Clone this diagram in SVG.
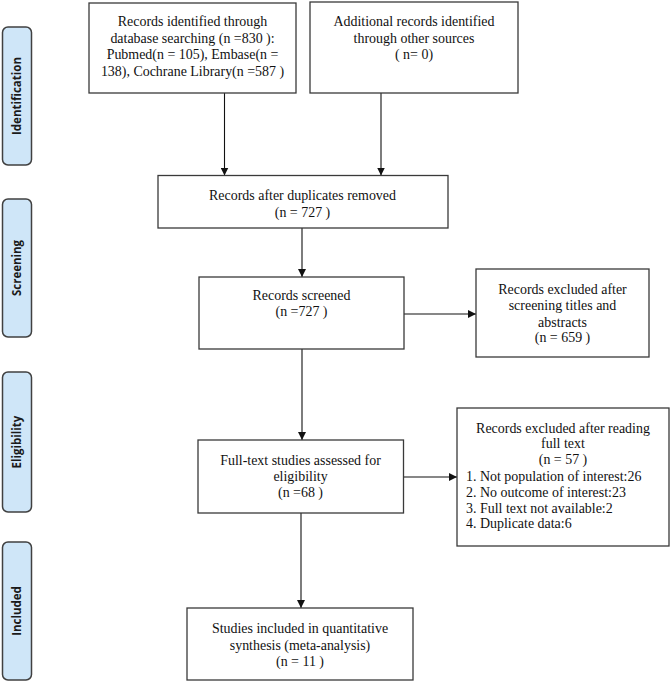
<svg xmlns="http://www.w3.org/2000/svg" width="671" height="682" viewBox="0 0 671 682">
<style>
.box{fill:#fff;stroke:#3a3a3a;stroke-width:1.3}
.pill{fill:#cfe6f8;stroke:#404040;stroke-width:1.5}
.t{font-family:"Liberation Serif",serif;font-size:15.5px;fill:#111;text-anchor:middle}
.tl{font-family:"Liberation Serif",serif;font-size:15.5px;fill:#111}
.p{font-family:"Open Sans","DejaVu Sans",sans-serif;font-weight:bold;font-size:11.5px;fill:#1a1a1a;text-anchor:middle}
.c{stroke:#111;stroke-width:1.1;fill:none;marker-end:url(#ah)}
</style>
<defs>
<marker id="ah" viewBox="0 0 10 10" refX="10" refY="5" markerWidth="8" markerHeight="8" markerUnits="userSpaceOnUse" orient="auto">
<path d="M0,0 L10,5 L0,10 z" fill="#111"/>
</marker>
</defs>
<rect width="671" height="682" fill="#fff"/>
<g id="phase-identification"><rect class="pill" x="2.5" y="27" width="29" height="138" rx="5.5"/><text class="p" transform="translate(21,96) rotate(-90)">Identification</text></g>
<g id="phase-screening"><rect class="pill" x="2.5" y="199" width="29" height="138" rx="5.5"/><text class="p" transform="translate(21,268) rotate(-90)">Screening</text></g>
<g id="phase-eligibility"><rect class="pill" x="2.5" y="372" width="29" height="140" rx="5.5"/><text class="p" transform="translate(21,442) rotate(-90)">Eligibility</text></g>
<g id="phase-included"><rect class="pill" x="2.5" y="542" width="29" height="138" rx="5.5"/><text class="p" transform="translate(21,611) rotate(-90)">Included</text></g>

<g id="connectors">
<line class="c" x1="224.5" y1="93" x2="224.5" y2="175.5"/>
<line class="c" x1="381" y1="93" x2="381" y2="175.5"/>
<line class="c" x1="302" y1="228" x2="302" y2="277"/>
<line class="c" x1="404" y1="314" x2="476" y2="314"/>
<line class="c" x1="302" y1="349" x2="302" y2="440"/>
<line class="c" x1="403.5" y1="477" x2="457" y2="477"/>
<line class="c" x1="301" y1="513" x2="301" y2="608"/>
</g>

<g id="n-database"><rect class="box" x="89" y="3" width="207" height="90"/>
<g transform="translate(192.5 0) scale(0.9 1)">
<text class="t" x="0" y="26.5">Records identified through</text>
<text class="t" x="0" y="43">database searching (n =830 ):</text>
<text class="t" x="0" y="59.5">Pubmed(n = 105), Embase(n =</text>
<text class="t" x="0" y="76">138), Cochrane Library(n =587 )</text></g></g>
<g id="n-other"><rect class="box" x="310" y="2" width="208" height="91"/>
<g transform="translate(414 0) scale(0.9 1)">
<text class="t" x="0" y="26.5">Additional records identified</text>
<text class="t" x="0" y="43">through other sources</text>
<text class="t" x="0" y="59.5">( n= 0)</text></g></g>
<g id="n-duplicates"><rect class="box" x="158" y="175.5" width="290" height="52.5"/>
<g transform="translate(302.5 0) scale(0.9 1)">
<text class="t" x="0" y="200.5">Records after duplicates removed</text>
<text class="t" x="0" y="217.5">(n = 727 )</text></g></g>
<g id="n-screened"><rect class="box" x="199" y="277" width="205" height="72"/>
<g transform="translate(301.5 0) scale(0.9 1)">
<text class="t" x="0" y="300.5">Records screened</text>
<text class="t" x="0" y="316.5">(n =727 )</text></g></g>
<g id="n-excluded1"><rect class="box" x="476" y="269" width="173" height="88"/>
<g transform="translate(562.5 0) scale(0.9 1)">
<text class="t" x="0" y="294.5">Records excluded after</text>
<text class="t" x="0" y="310.5">screening titles and</text>
<text class="t" x="0" y="327">abstracts</text>
<text class="t" x="0" y="342.5">(n = 659 )</text></g></g>
<g id="n-fulltext"><rect class="box" x="198" y="440" width="205.5" height="73"/>
<g transform="translate(300.5 0) scale(0.9 1)">
<text class="t" x="0" y="465">Full-text studies assessed for</text>
<text class="t" x="0" y="481.5">eligibility</text>
<text class="t" x="0" y="497.5">(n =68 )</text></g></g>
<g id="n-excluded2"><rect class="box" x="457" y="408" width="212" height="138"/>
<g transform="translate(563 0) scale(0.9 1)">
<text class="t" x="0" y="433">Records excluded after reading</text>
<text class="t" x="0" y="448.5">full text</text>
<text class="t" x="0" y="464.5">(n = 57 )</text>
<text class="tl" x="-107.8" y="481.5">1. Not population of interest:26</text>
<text class="tl" x="-107.8" y="497.5">2. No outcome of interest:23</text>
<text class="tl" x="-107.8" y="513">3. Full text not available:2</text>
<text class="tl" x="-107.8" y="528.5">4. Duplicate data:6</text></g></g>
<g id="n-included"><rect class="box" x="187" y="608" width="226" height="72"/>
<g transform="translate(300 0) scale(0.9 1)">
<text class="t" x="0" y="633">Studies included in quantitative</text>
<text class="t" x="0" y="650">synthesis (meta-analysis)</text>
<text class="t" x="0" y="666.5">(n = 11 )</text></g></g>
</svg>
